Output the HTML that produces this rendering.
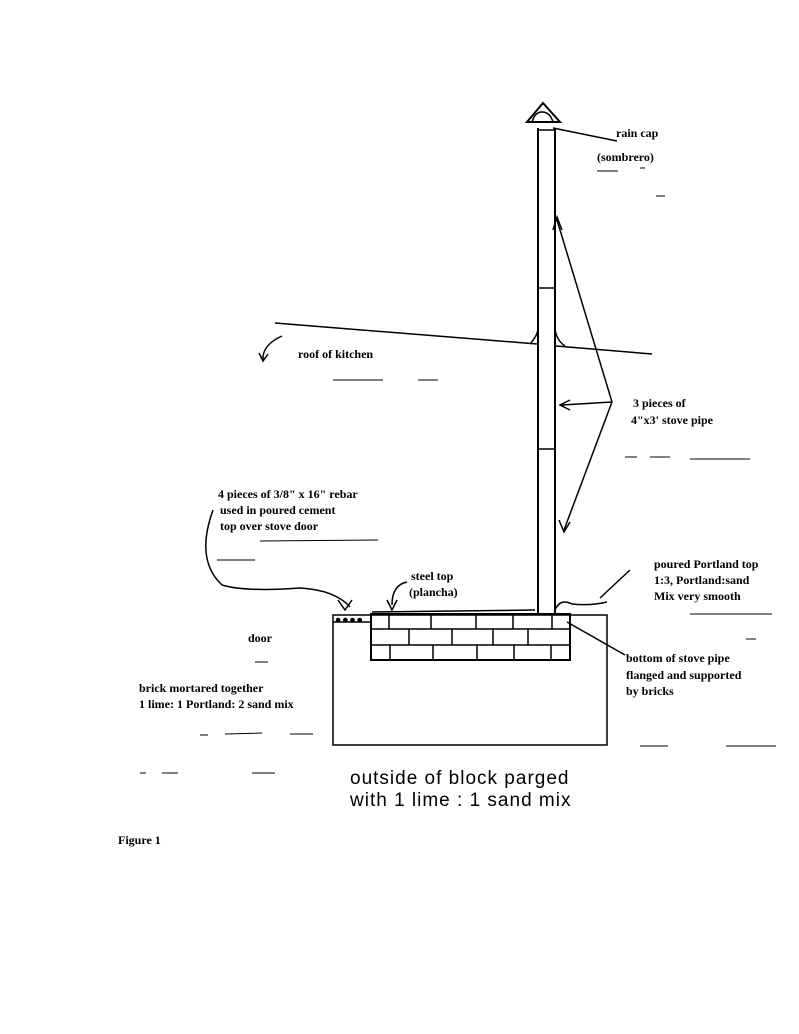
<!DOCTYPE html>
<html><head><meta charset="utf-8"><style>
html,body{margin:0;padding:0;background:#fff;width:799px;height:1034px;overflow:hidden}
svg{display:block}
text{font-family:"Liberation Serif",serif;font-size:12px;fill:#000;font-weight:bold}
.h{font-family:"Liberation Sans",sans-serif;font-size:19px;font-weight:normal;letter-spacing:1px}
</style></head><body>
<svg width="799" height="1034" viewBox="0 0 799 1034" xmlns="http://www.w3.org/2000/svg">
<g stroke="#000" fill="none" stroke-width="1.5">
<!-- pipe -->
<line x1="538" y1="128" x2="538" y2="614" stroke-width="2"/>
<line x1="555" y1="128" x2="555" y2="614" stroke-width="2"/>
<line x1="538" y1="288" x2="555" y2="288"/>
<line x1="538" y1="449" x2="555" y2="449"/>
<line x1="537" y1="130" x2="556" y2="130"/>
<!-- cap -->
<path d="M527 122 L543 103 L560 122 Z" stroke-width="2"/>
<path d="M532 122 Q535 112 542 112 Q550 112 553 122" />
<line x1="553" y1="128" x2="617" y2="141"/>
<!-- roof -->
<line x1="275" y1="323" x2="537" y2="344"/>
<line x1="556" y1="346" x2="652" y2="354"/>
<path d="M530 344 Q538 335 538 328"/><path d="M555 328 Q556 340 565 346"/>
<path d="M282 336 Q262 345 263 360"/><path d="M259 353 L263 361 L268 354"/>
<!-- stove pipe label arrows -->
<line x1="612" y1="402" x2="557" y2="220"/>
<line x1="612" y1="402" x2="562" y2="405"/>
<line x1="612" y1="402" x2="564" y2="530"/>
<path d="M553 230 L557 217 L562 230" /><path d="M570 400 L560 405 L570 410"/><path d="M559 520 L564 532 L570 522"/>
<!-- base -->
<rect x="333" y="615" width="274" height="130"/>
<line x1="333" y1="622" x2="372" y2="622"/>
<rect x="371" y="614" width="199" height="46" stroke-width="2"/>
<line x1="371" y1="629" x2="570" y2="629"/>
<line x1="371" y1="645" x2="570" y2="645"/>
<g stroke-width="1.5">
<line x1="389" y1="614" x2="389" y2="629"/><line x1="431" y1="614" x2="431" y2="629"/><line x1="476" y1="614" x2="476" y2="629"/><line x1="513" y1="614" x2="513" y2="629"/><line x1="552" y1="614" x2="552" y2="629"/>
<line x1="409" y1="629" x2="409" y2="645"/><line x1="452" y1="629" x2="452" y2="645"/><line x1="493" y1="629" x2="493" y2="645"/><line x1="528" y1="629" x2="528" y2="645"/>
<line x1="390" y1="645" x2="390" y2="660"/><line x1="433" y1="645" x2="433" y2="660"/><line x1="477" y1="645" x2="477" y2="660"/><line x1="514" y1="645" x2="514" y2="660"/><line x1="551" y1="645" x2="551" y2="660"/>
</g>
<line x1="372" y1="612" x2="535" y2="610"/>
<path d="M407 582 Q392 585 392 605"/><path d="M387 600 L392 610 L397 600"/>
<path d="M555 610 Q560 598 572 604 Q590 606 607 602"/>
<line x1="600" y1="598" x2="630" y2="570"/>
<line x1="567" y1="622" x2="625" y2="655"/>
<!-- rebar curve -->
<path d="M213 510 Q195 560 222 585 Q245 592 300 588 Q335 590 350 607"/>
<path d="M338 600 L345 610 L352 600"/>
<text x="336" y="624" font-size="9">• • • •</text>
</g>
<g stroke="#000" stroke-width="1">
<line x1="597" y1="171" x2="618" y2="171"/><line x1="640" y1="168" x2="645" y2="168"/><line x1="656" y1="196" x2="665" y2="196"/>
<line x1="333" y1="380" x2="383" y2="380"/><line x1="418" y1="380" x2="438" y2="380"/>
<line x1="625" y1="457" x2="637" y2="457"/><line x1="650" y1="457" x2="670" y2="457"/><line x1="690" y1="459" x2="750" y2="459"/>
<line x1="260" y1="541" x2="378" y2="540"/><line x1="217" y1="560" x2="255" y2="560"/>
<line x1="690" y1="614" x2="772" y2="614"/><line x1="746" y1="639" x2="756" y2="639"/>
<line x1="255" y1="662" x2="268" y2="662"/>
<line x1="200" y1="735" x2="208" y2="735"/><line x1="225" y1="734" x2="262" y2="733"/><line x1="290" y1="734" x2="313" y2="734"/>
<line x1="640" y1="746" x2="668" y2="746"/><line x1="726" y1="746" x2="776" y2="746"/>
<line x1="140" y1="773" x2="146" y2="773"/><line x1="162" y1="773" x2="178" y2="773"/><line x1="252" y1="773" x2="275" y2="773"/>
</g>
<text x="616" y="137">rain cap</text>
<text x="597" y="161">(sombrero)</text>
<text x="298" y="358">roof of kitchen</text>
<text x="633" y="407">3 pieces of</text>
<text x="631" y="424">4"x3' stove pipe</text>
<text x="218" y="498">4 pieces of 3/8" x 16" rebar</text>
<text x="220" y="514">used in poured cement</text>
<text x="220" y="530">top over stove door</text>
<text x="411" y="580">steel top</text>
<text x="409" y="596">(plancha)</text>
<text x="654" y="568">poured Portland top</text>
<text x="654" y="584">1:3, Portland:sand</text>
<text x="654" y="600">Mix very smooth</text>
<text x="248" y="642">door</text>
<text x="626" y="662">bottom of stove pipe</text>
<text x="626" y="679">flanged and supported</text>
<text x="626" y="695">by bricks</text>
<text x="139" y="692">brick mortared together</text>
<text x="139" y="708">1 lime: 1 Portland: 2 sand mix</text>
<text class="h" x="350" y="784">outside of block parged</text>
<text class="h" x="350" y="806">with 1 lime : 1 sand mix</text>
<text x="118" y="844">Figure 1</text>
</svg>
</body></html>
